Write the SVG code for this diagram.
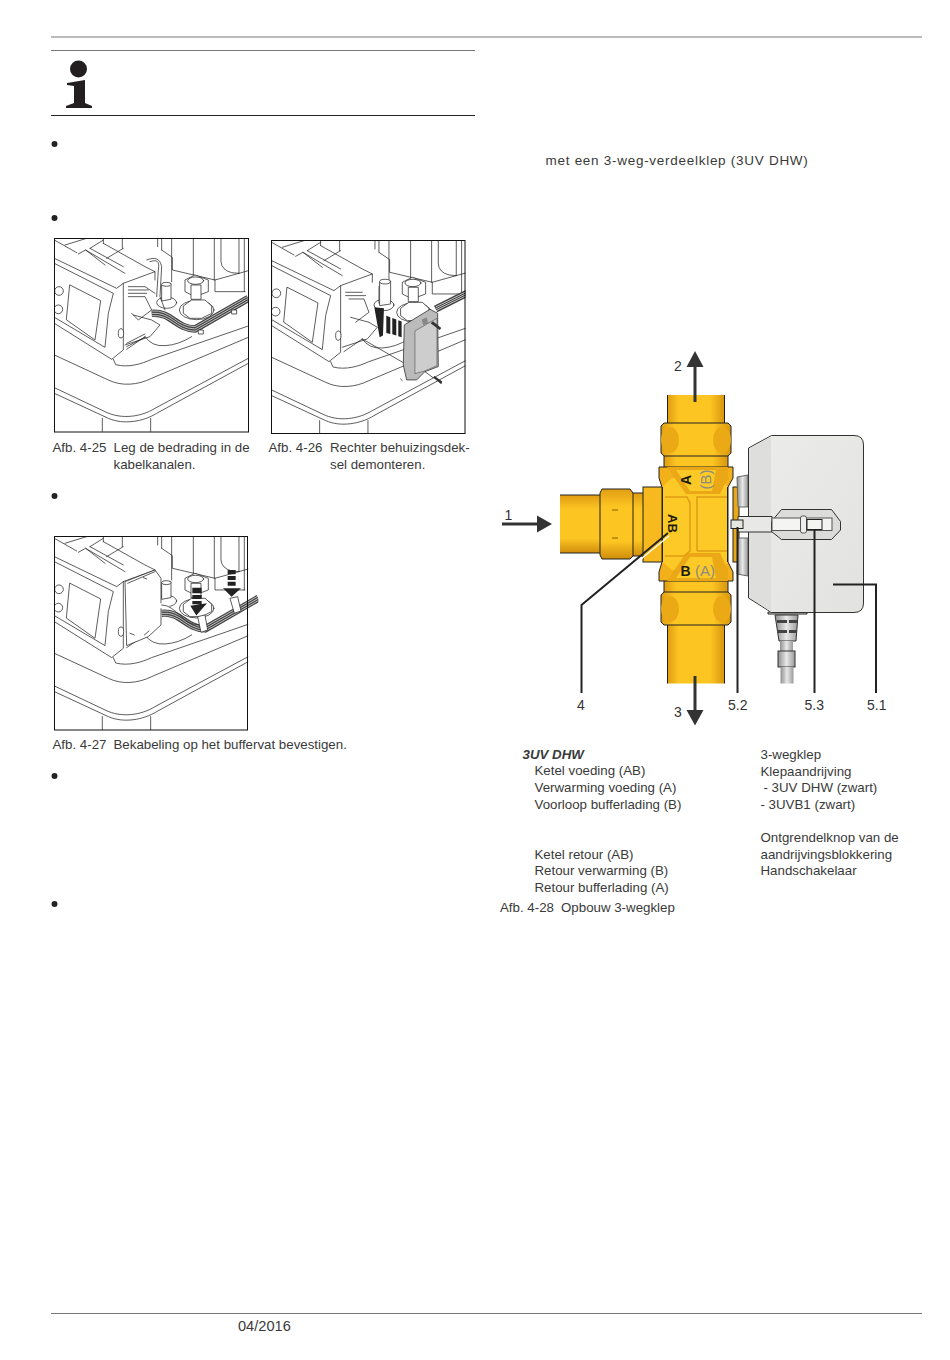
<svg xmlns="http://www.w3.org/2000/svg" width="950" height="1360" viewBox="0 0 950 1360">
<style>
text{font-family:"Liberation Sans",Arial,sans-serif;font-size:13.3px;fill:#3a3a3a}
.rule{stroke:#777;stroke-width:1;fill:none}
.ld{fill:none;stroke:#222;stroke-width:2}
.lw{fill:none;stroke:#fff;stroke-width:1.2}
.a{fill:#333}
.lab{font-size:14px;fill:#333}
.art{fill:none;stroke:#222;stroke-width:2.2;stroke-linejoin:round;stroke-linecap:round}
.w{fill:#fff;stroke:#222;stroke-width:2.2;stroke-linejoin:round}
.box{fill:none;stroke:#111;stroke-width:1}
.vb{font-weight:bold;fill:#1c1c10}
.vg{fill:#8a8a80}
.bul{fill:#222}
</style>
<defs>
<linearGradient id="gv" x1="0" y1="0" x2="1" y2="0"><stop offset="0" stop-color="#e09d12"/><stop offset=".2" stop-color="#fdc522"/><stop offset=".75" stop-color="#fdc522"/><stop offset="1" stop-color="#d8960f"/></linearGradient>
<linearGradient id="gh" x1="0" y1="0" x2="0" y2="1"><stop offset="0" stop-color="#e09d12"/><stop offset=".25" stop-color="#fdc522"/><stop offset=".75" stop-color="#fdc522"/><stop offset="1" stop-color="#cf8d0c"/></linearGradient>
<linearGradient id="gact" x1="0" y1="0" x2="1" y2="1"><stop offset="0" stop-color="#ececea"/><stop offset="1" stop-color="#e2e2e0"/></linearGradient>
<linearGradient id="gs" x1="0" y1="0" x2="1" y2="0"><stop offset="0" stop-color="#8f8f8f"/><stop offset=".5" stop-color="#e8e8e8"/><stop offset="1" stop-color="#9a9a9a"/></linearGradient>
<clipPath id="cb"><rect x="28" y="25" width="582" height="580"/></clipPath>
<g id="scene" clip-path="url(#cb)">
<path class="art" d="M175 25V40M232 25V55M338 25V50M350 25V60M380 25V155M445 25V135M508 25V150M528 25V95Q530 120 560 128L582 130M582 25V130M598 25V185"/>
<path class="art" d="M350 60L382 82V120L510 150L582 130L610 122M510 150V185L600 185"/>
<path class="art" d="M172 565V605M317 565V605"/>
<path class="art" d="M205 388L212 404C250 414 290 402 320 388L610 288"/>
<path class="art" d="M28 375L190 450C230 470 280 465 320 445L610 322"/>
<path class="art" d="M28 473L180 545C230 570 290 560 330 535L610 385"/>
<path class="art" d="M28 490L190 565C235 585 295 575 335 550L610 400"/>
<path class="art" d="M300 320Q320 350 360 347Q400 345 440 320"/>
<path class="art" d="M28 30L95 68M60 45L125 25M135 55L175 30M100 72L122 60L180 105M122 60L240 130M175 40L300 110L330 125M135 55L235 110M235 55L185 85"/>
<path class="w" d="M28 85L215 175L235 160V360L200 388L28 280Z"/>
<path class="art" d="M28 100L205 190L190 250L180 352L28 262M75 165L167 212L150 330L65 270Z"/>
<path class="art" d="M235 160L330 125V150M245 358L300 320"/>
<circle class="w" cx="42" cy="183" r="13"/><circle class="w" cx="40" cy="238" r="13"/>
<ellipse class="w" cx="228" cy="310" rx="8" ry="14"/>
<ellipse class="art" cx="365" cy="218" rx="30" ry="17"/>
<path class="w" d="M350 165L378 160V208L350 213Z"/><ellipse class="w" cx="364" cy="163" rx="14" ry="6"/>
<ellipse class="art" cx="455" cy="240" rx="52" ry="29"/>
<path class="w" d="M415 228L440 210H480L500 228V250L470 265H435L415 250Z"/>
<path class="w" d="M420 150L450 135L490 150V185L450 200L420 185Z"/>
<ellipse class="art" cx="452" cy="152" rx="24" ry="11"/><path class="w" d="M438 165H468V208H438Z"/>
</g>
<g id="cable"><path fill="none" stroke="#444" stroke-width="22" d="M320 250C380 245 390 295 450 297L610 205" clip-path="url(#cb)"/><path fill="none" stroke="#ddd" stroke-width="2.400" d="M320 243C380 238 390 288 450 290L610 198M320 250C380 245 390 295 450 297L610 205M320 257C380 252 390 302 450 304L610 212" clip-path="url(#cb)"/></g>
</defs>

<g id="page-rules">
<path class="rule" d="M51 37H922"/><path class="rule" d="M51 50.5H475"/><path d="M51 115.5H475" stroke="#222" fill="none"/><path class="rule" d="M51 1313.5H922"/>
</g>
<g id="info-icon"><circle cx="78.500" cy="69" r="8.500" fill="#231f20"/><path fill="#231f20" d="M67 83L85 80V103L92 106V108H66V106L74 103V86L67 85Z"/></g>
<g id="bullets"><circle class="bul" cx="54.500" cy="144" r="3"/><circle class="bul" cx="54.500" cy="218" r="3"/><circle class="bul" cx="54.500" cy="496" r="3"/><circle class="bul" cx="54.500" cy="776" r="3"/><circle class="bul" cx="54.500" cy="904" r="3"/></g>

<g id="fig-4-25">
<g transform="translate(45 230) scale(.3333)">
<use href="#scene"/>
<path class="art" d="M305 90C330 80 345 85 350 110L345 200L360 240M315 95C335 88 345 92 340 120L335 200"/>
<path class="art" d="M250 170H300L330 190M250 180H310M250 190H305M250 200H300L320 240L280 270L260 250"/>
<path class="art" d="M265 255L320 270L345 285L315 320L240 345"/>
<path class="art" d="M245 340L300 312M245 350L300 322"/>
<use href="#cable"/>
<path class="w" d="M460 300H475V312H460Z"/><path class="w" d="M560 240H575V252H560Z"/>
</g>
<rect class="box" x="54.500" y="238.500" width="194" height="193.500"/>
</g>

<g id="fig-4-26">
<g transform="translate(262.300 232.300) scale(.3333)">
<use href="#scene"/>
<path class="art" d="M250 180H300M250 190H310M260 200H305L320 240L280 270"/>
<path class="art" d="M265 255L320 270L345 285L315 320L240 345"/>
<path class="w" d="M352 150L385 146V215L352 220Z"/><ellipse class="w" cx="368" cy="148" rx="16" ry="7"/>
<path fill="none" stroke="#444" stroke-width="22" d="M520 230L620 180" clip-path="url(#cb)"/>
<path fill="none" stroke="#ddd" stroke-width="2.400" d="M520 224L620 174M520 230L620 180M520 236L620 186" clip-path="url(#cb)"/>
<path fill="#222" d="M336 225L365 228L362 310L352 315ZM372 250L384 255V305L372 302ZM390 257L402 262V310L390 306ZM408 264L418 268V315L408 312Z"/>
<path class="art" d="M300 320L430 395"/>
<path fill="#bbb" stroke="#222" stroke-width="2.200" d="M426 278L503 231L526 243L528 403L488 418L463 443H433L423 398Z"/>
<path fill="#cdcdcd" stroke="#444" stroke-width="1.600" d="M458 296L524 258V400L488 416L458 424Z"/>
<path fill="#888" d="M478 262L493 256L498 274L483 279Z"/>
<path fill="#333" d="M505 273L532 293L537 287L512 267ZM512 436L537 456L540 448L517 431Z"/>
<path class="art" d="M415 440L420 445M488 418L512 436"/>
</g>
<rect class="box" x="271.500" y="240.500" width="193.500" height="193"/>
</g>

<g id="fig-4-27">
<g transform="translate(45 528.300) scale(.3333)">
<use href="#scene"/>
<path fill="#fff" stroke="#222" stroke-width="2.200" d="M240 160L330 125L348 150V290L310 325L245 352Z"/>
<path class="art" d="M248 165L330 130M295 148L305 152M255 315L268 320M298 320L312 308"/>
<use href="#cable" transform="translate(30 5)"/>
<path fill="#fff" d="M345 225H365L378 240H345Z"/>
<path class="art" d="M350 230C395 230 410 290 462 290"/>
<path class="w" d="M458 265L480 260L488 305L468 312Z"/><path class="w" d="M555 210L578 205L588 248L568 255Z"/>
<path fill="#222" d="M442 178H470V195H442ZM442 200H470V212H442ZM442 218H470V228H442ZM436 232L486 225L454 262Z"/>
<path fill="#222" d="M548 125H572V138H548ZM548 143H572V155H548ZM548 160H572V172H548ZM534 180H588L560 205Z"/>
</g>
<rect class="box" x="54.500" y="536.500" width="193" height="193.500"/>
</g>

<g id="captions">
<text x="52.500" y="452">Afb. 4-25</text><text x="113.500" y="452">Leg de bedrading in de</text>
<text x="113.500" y="469">kabelkanalen.</text>
<text x="268.500" y="452">Afb. 4-26</text><text x="330" y="452">Rechter behuizingsdek-</text>
<text x="330" y="469">sel demonteren.</text>
<text x="52.500" y="749">Afb. 4-27</text><text x="113.500" y="749">Bekabeling op het buffervat bevestigen.</text>
<text x="545.500" y="165" style="font-size:13.500px;letter-spacing:.72px">met een 3-weg-verdeelklep (3UV DHW)</text>
<text x="238" y="1331" style="font-size:14.600px">04/2016</text>
</g>

<g id="valve">
<rect x="560" y="495" width="41" height="58" fill="url(#gh)"/>
<path d="M560 495H601M560 553H601" stroke="#222" fill="none"/>
<rect x="632" y="493" width="12" height="63" fill="url(#gh)" stroke="#222"/>
<path fill="url(#gh)" stroke="#222" d="M602 489H630L633 493V556L630 559H602L600 555V493Z"/>
<path d="M612 510H618M612 538H618" stroke="#8a5c00" stroke-width="1"/>
<rect x="643" y="487" width="20" height="75" fill="#f7b91e" stroke="#222"/>
<rect x="667.500" y="395" width="57" height="30" fill="url(#gv)"/>
<path d="M667.500 395V425M724.500 395V425" stroke="#222"/>
<rect x="667.500" y="625" width="57" height="58.500" fill="url(#gv)"/>
<path d="M667.500 625V683.500M724.500 625V683.500" stroke="#222"/>
<rect x="664" y="455" width="64" height="13" fill="url(#gv)" stroke="#222"/>
<rect x="664" y="580" width="64" height="13" fill="url(#gv)" stroke="#222"/>
<path fill="url(#gv)" stroke="#222" d="M664 423H728L731 426V453L728 456H664L661 453V426Z"/>
<path fill="url(#gv)" stroke="#222" d="M664 592H728L731 595V622L728 625H664L661 622V595Z"/>
<ellipse cx="670" cy="440" rx="9" ry="13" fill="#eba915"/><ellipse cx="722" cy="440" rx="9" ry="13" fill="#eba915"/>
<ellipse cx="670" cy="609" rx="9" ry="13" fill="#eba915"/><ellipse cx="722" cy="609" rx="9" ry="13" fill="#eba915"/>
<rect x="733" y="487" width="6" height="75" fill="#e9a815" stroke="#222"/>
<path fill="#f2b01b" stroke="#222" d="M659 467H733V478L728 487V562L733 572V581H659V572L662 562V487L659 478Z"/>
<path fill="#fdc926" d="M662 487L672 478H720L728 487V562L720 570H672L662 562Z"/>
<path fill="#eaa817" d="M667 467L686 494H720L728 478V467ZM667 581L686 553H720L728 570V581Z"/>
<path fill="#fdc926" d="M676 470H716L712 491H690ZM676 578H716L712 557H690Z"/>
<path fill="none" stroke="#e09c14" stroke-width="1.500" d="M665 497H687L690 503V551L684 556H665M697 551V497H728M697 551H728"/>
<path fill="none" stroke="#222" d="M662.500 487V562M727.500 487V562"/>
<text class="vb" transform="translate(691 485) rotate(-90)" style="font-size:14px">A</text>
<text class="vg" transform="translate(711 489.500) rotate(-90)" style="font-size:15px">(B)</text>
<text class="vb" transform="translate(668 514) rotate(90)" style="font-size:13px">AB</text>
<text class="vb" x="680.500" y="575.500" style="font-size:14px">B</text>
<text class="vg" x="695" y="575.500" style="font-size:15px">(A)</text>
</g>

<g id="actuator">
<path fill="url(#gs)" stroke="#666" d="M737 477L748 475V507H738ZM738 538H748V576L737 574Z"/>
<path fill="#d9d9d7" stroke="#222" d="M768 612H807V614H768Z"/>
<path fill="url(#gs)" stroke="#333" d="M775 615H798L796 641H779Z"/>
<path fill="#444" d="M777 620H787V623H777ZM789 620H797V623H789ZM777 630H787V633H777ZM789 630H797V633H789Z"/>
<rect x="780" y="641" width="13" height="10" fill="url(#gs)"/>
<rect x="778" y="651" width="17" height="16" fill="url(#gs)" stroke="#333"/>
<rect x="780.500" y="667" width="13" height="16.500" fill="url(#gs)"/>
<path fill="url(#gact)" stroke="#333" stroke-width="1" d="M748.500 448L771.500 435.500H854Q863.500 435.500 863.500 445V603Q863.500 612.500 854 612.500H771.500L748.500 598Z"/>
<path fill="#dededc" d="M749 449L771 436.500V612L749 597Z"/>
<path fill="#e8e8e6" stroke="#333" d="M738 516.500H772V532H738Z"/>
<path fill="#dcdcda" stroke="#333" d="M771.500 521.500L781.500 509.500H831.500L840.500 521.500V530L831.500 539.500H781.500L771.500 531.500Z"/>
<rect x="772" y="518" width="60" height="12.500" fill="#f4f4f2" stroke="#555"/>
<rect x="800.500" y="516" width="6" height="17" rx="2" fill="#eee" stroke="#555"/>
<rect x="807" y="519.500" width="15" height="10" fill="none" stroke="#222"/>
<rect x="731" y="520" width="12" height="8.500" fill="#e6e6e0" stroke="#222"/>
</g>

<g id="connectors">
<path class="lw" d="M669 536L584 606"/>
<path class="ld" d="M668 533L581.500 605V693"/>
<path class="ld" d="M737.500 527V693"/>
<path class="ld" d="M814.500 530V693"/>
<path class="ld" d="M833 584.500H876V693"/>
<path stroke="#333" stroke-width="3" d="M695 402V366" fill="none"/><path class="a" d="M695 351L703.500 367H686.500Z"/>
<path stroke="#333" stroke-width="3" d="M695 676V711" fill="none"/><path class="a" d="M695 725.500L703.500 710H686.500Z"/>
<path stroke="#333" stroke-width="3" d="M502 524H537" fill="none"/><path class="a" d="M552 524L537 515.500V532.500Z"/>
</g>

<g id="labels">
<text class="lab" x="674" y="371">2</text>
<text class="lab" x="504.500" y="520">1</text>
<text class="lab" x="577" y="710">4</text>
<text class="lab" x="674" y="717">3</text>
<text class="lab" x="728" y="710">5.2</text>
<text class="lab" x="804.500" y="710">5.3</text>
<text class="lab" x="867" y="710">5.1</text>
</g>

<g id="legend">
<text x="522.500" y="759" style="font-weight:bold;font-style:italic">3UV DHW</text>
<text x="534.500" y="775">Ketel voeding (AB)</text>
<text x="534.500" y="792">Verwarming voeding (A)</text>
<text x="534.500" y="809">Voorloop bufferlading (B)</text>
<text x="534.500" y="859">Ketel retour (AB)</text>
<text x="534.500" y="875">Retour verwarming (B)</text>
<text x="534.500" y="892">Retour bufferlading (A)</text>
<text x="500" y="912">Afb. 4-28</text><text x="561" y="912">Opbouw 3-wegklep</text>
<text x="760.500" y="759">3-wegklep</text>
<text x="760.500" y="776">Klepaandrijving</text>
<text x="763.500" y="792">- 3UV DHW (zwart)</text>
<text x="760.500" y="809">- 3UVB1 (zwart)</text>
<text x="760.500" y="842">Ontgrendelknop van de</text>
<text x="760.500" y="859">aandrijvingsblokkering</text>
<text x="760.500" y="875">Handschakelaar</text>
</g>
</svg>
